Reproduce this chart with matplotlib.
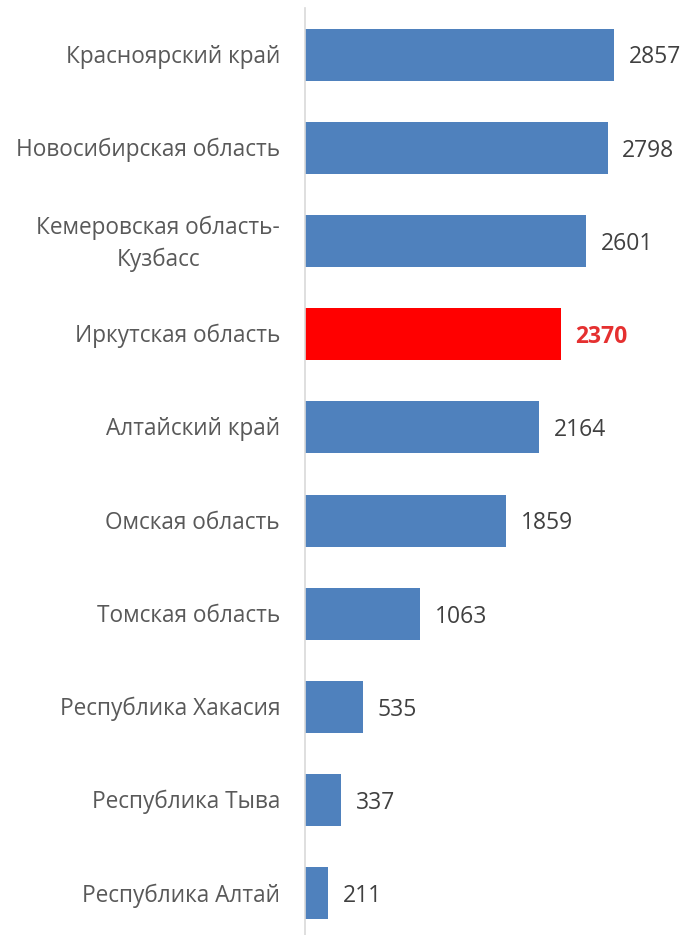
import numpy as np
import matplotlib.pyplot as plt
import matplotlib.transforms as mtransforms

regions = ['Красноярский край', 'Новосибирская область', 'Кемеровская область-\nКузбасс',
           'Иркутская область', 'Алтайский край', 'Омская область', 'Томская область',
           'Республика Хакасия', 'Республика Тыва', 'Республика Алтай']
values = [2857, 2798, 2601, 2370, 2164, 1859, 1063, 535, 337, 211]
highlight = 'Иркутская область'

blue = '#4F81BD'
red = '#FF0000'
colors = [red if r == highlight else blue for r in regions]

plt.rcParams['font.family'] = ['Open Sans', 'DejaVu Sans']

fig = plt.figure(figsize=(6.86, 9.35), dpi=100)
ax = fig.add_axes([305/686, -5/935, 381/686, 932/935])

y = np.arange(len(regions))
ax.barh(y, values, height=0.56, color=colors)
ax.set_ylim(len(regions) - 0.5, -0.5)
ax.set_xlim(0, 3521)
ax.set_yticks([])
ax.set_xticks([])

# category labels drawn as text so the two-line one can be placed like the original
ytrans = ax.get_yaxis_transform()
for yi, r in zip(y, regions):
    dy = -3/100 if '\n' in r else -2/100
    tr = ytrans + mtransforms.ScaledTranslation(-25/100, dy, fig.dpi_scale_trans)
    ax.text(0, yi, r, transform=tr, ha='right', va='center', multialignment='center',
            fontsize=16.3, color='#595959', linespacing=1.45)

for s in ['top', 'right', 'bottom']:
    ax.spines[s].set_visible(False)
ax.spines['left'].set_color('#D9D9D9')
ax.spines['left'].set_linewidth(1.2)

for yi, v, r in zip(y, values, regions):
    if r == highlight:
        ax.text(v + 125, yi + 0.03, str(v), va='center', ha='left', fontsize=16.5,
                color='#E53030', fontweight='bold')
    else:
        ax.text(v + 135, yi + 0.03, str(v), va='center', ha='left', fontsize=16.5, color='#404040')

fig.savefig('out.png', dpi=100)
